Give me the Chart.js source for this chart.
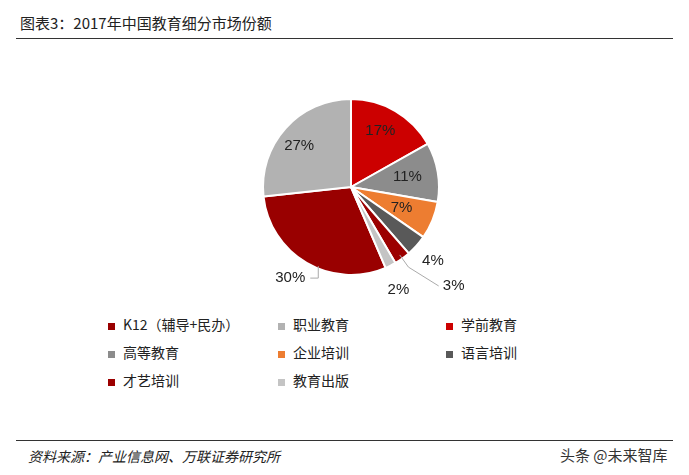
<!DOCTYPE html>
<html><head><meta charset="utf-8">
<script src="https://cdn.jsdelivr.net/npm/chart.js@4"></script>
<style>
body{margin:0;width:689px;height:475px;background:#fff;position:relative;font-family:"Noto Sans CJK SC","Noto Sans",sans-serif;overflow:hidden}
#title{position:absolute;left:20px;top:12px;font-size:15px;color:#222}
#tline{position:absolute;left:16px;top:38px;width:657px;border-top:1.5px solid #333}
#bline{position:absolute;left:16px;top:440px;width:657px;border-top:1.5px solid #333}
#src{position:absolute;left:28px;top:446px;font-size:14px;font-style:italic;color:#222}
#wm{position:absolute;left:560px;top:444px;font-size:15px;color:#333}
#wrap{position:absolute;left:200px;top:60px;width:302px;height:250px}
#legend{position:absolute;left:108px;top:314px;display:grid;grid-template-columns:170px 168px 150px;row-gap:8px;font-size:14px;color:#222}
#legend span.m{display:inline-block;width:7px;height:7px;margin-right:8px;vertical-align:middle}
</style></head><body>
<div id="title">图表3：2017年中国教育细分市场份额</div>
<div id="tline"></div>
<div id="wrap"><canvas id="c"></canvas></div>
<div id="legend"></div>
<div id="bline"></div>
<div id="src">资料来源：产业信息网、万联证券研究所</div>
<div id="wm">头条 @未来智库</div>
<script>
const categories = ['K12（辅导+民办）','职业教育','学前教育','高等教育','企业培训','语言培训','才艺培训','教育出版'];
const shares = [30, 27, 17, 11, 7, 4, 3, 2];
const colors = ['#990000','#b2b2b2','#cc0000','#8c8c8c','#ed7d31','#595959','#9c0000','#c4c4c4'];
// label placement: radius factor and offset
const labelPos = [[1.12,-11,6],[0.7,-6,0],[0.66,0,-6],[0.65,0,0],[0.62,0,0],[1.25,0,0],[1.3,36,6],[1.3,-4,1]];

const lg = document.getElementById('legend');
categories.forEach((c,i)=>{
  const d=document.createElement('div');
  d.innerHTML='<span class="m" style="background:'+colors[i]+'"></span>'+c;
  lg.appendChild(d);
});

const labels = {
  id:'labels',
  afterDatasetsDraw(chart){
    const ctx=chart.ctx;
    const meta=chart.getDatasetMeta(0);
    ctx.save();
    ctx.font='15px Arial, "Liberation Sans"';
    ctx.textAlign='center';ctx.textBaseline='middle';
    meta.data.forEach((arc,i)=>{
      const {x,y,startAngle,endAngle,outerRadius:r}=arc.getProps(['x','y','startAngle','endAngle','outerRadius'],true);
      const a=(startAngle+endAngle)/2;
      const [k,dx,dy]=labelPos[i];
      let lx=x+Math.cos(a)*r*k+dx, ly=y+Math.sin(a)*r*k+dy;
      ctx.strokeStyle='#aaa';ctx.lineWidth=1;
      if(i===6){
        ctx.beginPath();
        ctx.moveTo(x+Math.cos(a)*r*0.95,y+Math.sin(a)*r*0.95);
        ctx.lineTo(x+Math.cos(a)*r*1.12,y+Math.sin(a)*r*1.12);
        ctx.lineTo(lx-15,ly);ctx.stroke();
      } else if(i===0){
        ctx.beginPath();
        ctx.moveTo(lx+28,ly-12);ctx.lineTo(lx+28,ly);ctx.lineTo(lx+20,ly);ctx.stroke();
      }
      ctx.fillStyle='#222';
      ctx.fillText(shares[i]+'%',lx,ly);
    });
    ctx.restore();
  }
};

new Chart(document.getElementById('c'),{
  type:'pie',
  data:{labels:categories,datasets:[{data:shares,backgroundColor:colors,borderColor:'#fff',borderWidth:2}]},
  options:{
    responsive:true,maintainAspectRatio:false,animation:false,
    rotation:-360*57/101,
    layout:{padding:{left:62,right:62,top:38,bottom:34}},
    plugins:{legend:{display:false},tooltip:{enabled:false}}
  },
  plugins:[labels]
});
</script>
</body></html>
